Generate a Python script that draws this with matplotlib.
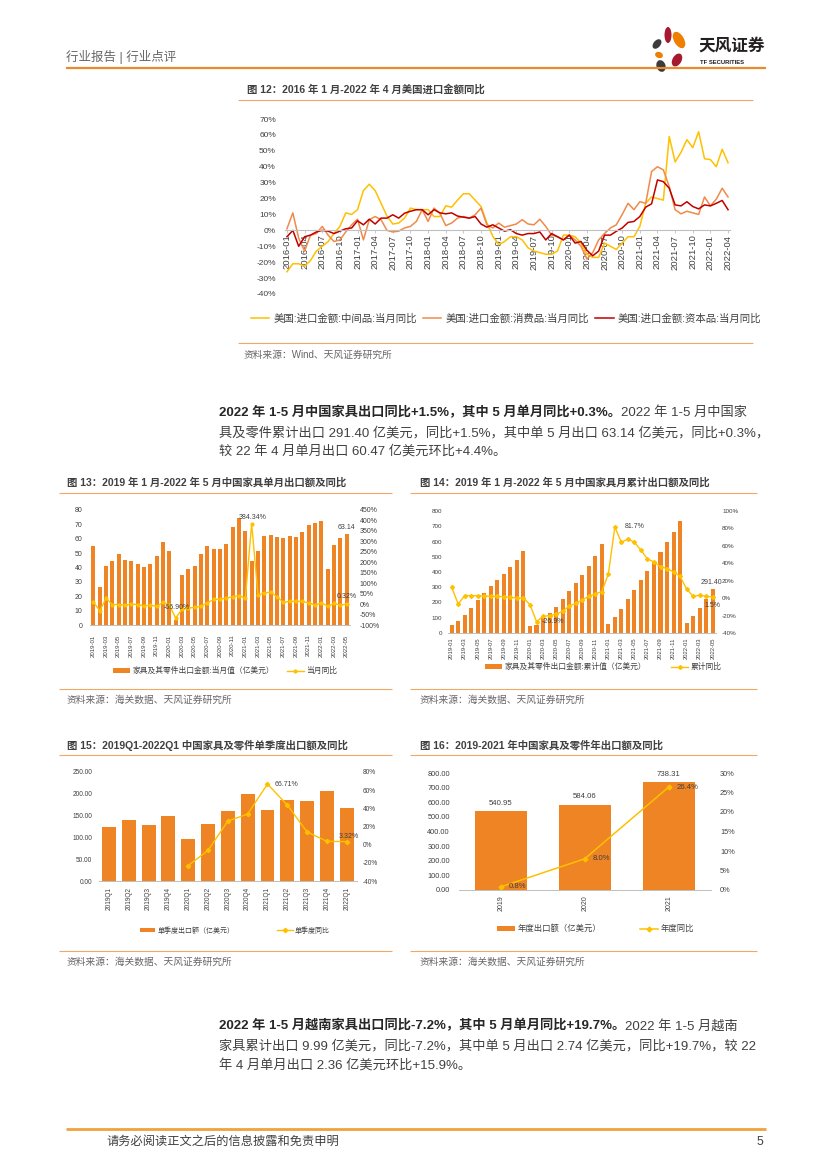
import numpy as np
import pandas as pd
import matplotlib
matplotlib.use('Agg')
import matplotlib.pyplot as plt
from matplotlib.patches import Ellipse

plt.rcParams['font.family'] = ['Liberation Sans', 'Noto Sans CJK SC']
plt.rcParams['axes.unicode_minus'] = False

W, H = 827, 1169

# ---------------- 数据 ----------------
# 图12 美国进口金额同比 (%)
us_months = pd.date_range('2016-01', '2022-04', freq='MS').strftime('%Y-%m').tolist()
us_mid = [-26, -21, -21, -22.5, -19, -13, -10, -7, -2, 2.5, 11, 10,
          13, 25, 29, 25, 17, 9, 4, 4.6, 7.7, 14, 13, 13,
          13, 8.7, 8.7, 15.4, 14.6, 19, 23, 23, 19, 15, 4.6, -3.7,
          -9, -7, -4, -4, -6, -11, -13, -14, -15, -15, -13, -3,
          -3, -4, -8, -15, -17, -17, -8, -10, -12, -8, -4, -4,
          2.5, 17, 21, 20, 19, 59, 43, 49, 57, 52, 62, 45,
          44.5, 40, 51, 42.5]
us_cons = [1, 11, -5, -13, -3, -2, 2.5, -3, -7, -6, -1, 3.5,
           7, -6, 6.7, 8.7, 6.7, 0, -1, -0.5, 1.5, 2.5, 5.6, 13,
           5.6, 14, 10.8, 3, 4.6, 7.7, 8.7, 7.7, 9.8, 14, 3.5, 1.5,
           4.6, 2, 3, 4, 6.7, 4, 3.5, 7, 2.5, -3, -4, -6,
           -3, -6, -10, -18, -14, -6, -2, 1.5, 3.5, 10, 17, 13,
           18, 17, 37, 40, 38, 27.5, 13, 10.4, 12, 11, 10, 21,
           15.4, 19.6, 26.5, 21]
us_cap = [-4, 0, -10, -4, -3, -1, 0, -0.5, -2, -0.5, 1, 1.5,
          6, 3.5, 7, 4, 7.7, 7.7, 9.8, 7.7, 10.8, 12, 13, 13,
          9.8, 13, 11, 10.4, 11, 9, 8.3, 7.7, 8.7, 4, 2, 3.5,
          1.5, -0.5, 0.4, -2, -3, -2, -2, -1, -6, -2, -4, -6,
          -3, -8, -7, -12.5, -16, -13, -3, -3, -0.6, 1.5, 5, 5.6,
          8.7, 14.6, 16.7, 31.7, 30.6, 26.5, 16, 15.4, 18, 15, 13.5, 16,
          15.4, 17, 18.8, 13]
us_names = ['美国:进口金额:中间品:当月同比', '美国:进口金额:消费品:当月同比', '美国:进口金额:资本品:当月同比']

# 图13 / 图14 中国家具出口
cn_months = pd.date_range('2019-01', '2022-05', freq='MS').strftime('%Y-%m').tolist()
cn_month_val = [55.2, 26.7, 41.1, 44.5, 49.4, 45.2, 44.8, 42.5, 40.4, 42.5, 48, 58,
                51.7, 3.5, 34.8, 39, 41, 49.4, 55, 52.9, 52.9, 56.4, 68, 74.5,
                65.4, 44.5, 51.5, 62, 62.6, 61.3, 60.6, 62, 61.3, 64.7, 69.6, 71,
                72.4, 39, 55.7, 60.5, 63.14]
cn_month_yoy = [11, -32, 27, -2, -2, -5, 0, -2, -8, -5, -11, 8,
                -5, -66.9, -25, -18, -16, -10, 6, 22, 24, 29, 35, 41,
                27, 384.34, 43, 54, 57, 35, 8, 13, 13, 13, 6, -5,
                6, -10, 3, -5, 0.32]
cn_cum_val = [55, 80, 120, 166, 219, 263, 309, 348, 387, 435, 481, 540,
              48, 55, 109, 131, 171, 225, 276, 328, 381, 442, 508, 586,
              61, 107, 160, 225, 284, 350, 409, 468, 534, 600, 665, 737,
              68, 114, 166, 225, 291.4]
cn_cum_yoy = [12.5, -6.8, 3, 3, 2.6, 2.6, 2, 2, 1.5, 1, 0, 0,
              -7.5, -26.9, -21, -20, -18.5, -15, -9, -6, -2, 2, 5, 7.5,
              27.5, 81.7, 64, 68, 64, 55, 45, 41.5, 36, 34, 30, 25,
              10.5, 2, 3.4, 2, 1.5]

# 图15 单季度
quarters = ['2019Q1', '2019Q2', '2019Q3', '2019Q4', '2020Q1', '2020Q2', '2020Q3',
            '2020Q4', '2021Q1', '2021Q2', '2021Q3', '2021Q4', '2022Q1']
q_val = [123.8, 140, 128.5, 149, 96, 131, 161, 200, 163, 186, 184, 207, 168]
q_yoy = [np.nan, np.nan, np.nan, np.nan, -23, -6.3, 26, 33.7, 66.71, 43.7, 14, 3.7, 3.32]

# 图16 年度
years = ['2019', '2020', '2021']
y_val = [540.95, 584.06, 738.31]
y_yoy = [0.8, 8.0, 26.4]

BAR = '#EE8424'
LINE = '#FFC000'
TXT = '#404040'
RULE = '#F2A766'

# ---------------- 画布 ----------------
fig = plt.figure(figsize=(W / 100, H / 100), dpi=100)
page = fig.add_axes([0, 0, 1, 1])
page.set_xlim(0, W)
page.set_ylim(H, 0)
page.axis('off')
renderer = fig.canvas.get_renderer()


def px_box(x0, y0, x1, y1):
    return [x0 / W, 1 - y1 / H, (x1 - x0) / W, (y1 - y0) / H]


def ptext(x, y, s, size, color=TXT, weight='normal', ha='left', va='center'):
    return page.text(x, y, s, fontsize=size, color=color, fontweight=weight, ha=ha, va=va)


def hline(x0, x1, y, color=RULE, lw=0.8):
    page.plot([x0, x1], [y, y], color=color, lw=lw, solid_capstyle='butt')


def rich(x, y, parts, size=9.5):
    for s, bold in parts:
        t = page.text(x, y, s, fontsize=size, va='center',
                      fontweight='bold' if bold else 'normal',
                      color='#262626' if bold else '#404040')
        x += t.get_window_extent(renderer=renderer).width


# 页眉
ptext(66, 57, '行业报告 | 行业点评', 9, color='#666666')
hline(66, 766, 68, color='#E98B2A', lw=1.6)
for (cx, cy, w, h, ang, c) in [(668, 35, 7, 16, 0, '#A6192E'), (679, 40, 10, 18, -30, '#EE7F00'),
                               (657, 44, 7, 11, 40, '#3C3C3C'), (659, 55, 8, 6, 20, '#EE7F00'),
                               (677, 60, 9, 14, 30, '#A6192E'), (661, 66, 9, 12, -20, '#3C3C3C')]:
    page.add_patch(Ellipse((cx, cy), w, h, angle=ang, color=c, lw=0))
ptext(698, 46, '天风证券', 12, color='#231F20', weight='bold')
ptext(700, 63, 'TF SECURITIES', 4.2, color='#231F20', weight='bold')

# ---------------- 图12 ----------------
ptext(247, 89, '图 12：2016 年 1 月-2022 年 4 月美国进口金额同比', 7.5, weight='bold')
hline(238, 753, 100)
ax = fig.add_axes(px_box(284.6, 119, 730.4, 294))
ax.patch.set_alpha(0)
for s in ['top', 'right', 'left']:
    ax.spines[s].set_visible(False)
ax.spines['bottom'].set_position(('data', 0))
ax.spines['bottom'].set_color('#BFBFBF')
ax.spines['bottom'].set_linewidth(0.8)
xm = np.arange(len(us_months))
for vals, col, name in zip([us_mid, us_cons, us_cap], ['#FFC000', '#F08A4B', '#C00000'], us_names):
    ax.plot(xm, vals, color=col, lw=1.1, label=name)
ax.set_xlim(-0.4, len(us_months) - 0.6)
ax.set_ylim(-40, 70)
ax.set_yticks(range(-40, 71, 10))
ax.set_yticklabels([f'{v}%' for v in range(-40, 71, 10)])
ax.set_xticks(xm[::3])
ax.set_xticklabels(us_months[::3])
ax.tick_params(axis='y', length=0, pad=6.2, labelsize=6, labelcolor=TXT)
ax.tick_params(axis='x', length=2, width=0.6, color='#BFBFBF', pad=1, labelsize=6.8,
               labelcolor=TXT, labelrotation=90)
ax.legend(loc='center left', bbox_to_anchor=(251, 318.6), bbox_transform=page.transData, ncol=3,
          frameon=False, fontsize=7.5, handlelength=1.75, handletextpad=0.4, columnspacing=0.6,
          borderpad=0, borderaxespad=0, labelcolor=TXT)
hline(238, 753, 343)
ptext(244, 355, '资料来源：Wind、天风证券研究所', 7, color='#666666')

# 正文1
rich(219, 413, [('2022 年 1-5 月中国家具出口同比+1.5%，其中 5 月单月同比+0.3%。', True),
                ('2022 年 1-5 月中国家', False)])
rich(219, 433, [('具及零件累计出口 291.40 亿美元，同比+1.5%，其中单 5 月出口 63.14 亿美元，同比+0.3%，', False)])
rich(219, 452, [('较 22 年 4 月单月出口 60.47 亿美元环比+4.4%。', False)])


def style_combo(ax, ax2, fs_y, fs_x, pad_l, pad_r, pad_x):
    for a in (ax, ax2):
        for s in ['top', 'left', 'right']:
            a.spines[s].set_visible(False)
    ax2.spines['bottom'].set_visible(False)
    ax.spines['bottom'].set_color('#BFBFBF')
    ax.spines['bottom'].set_linewidth(0.7)
    ax.tick_params(axis='y', length=0, pad=pad_l, labelsize=fs_y, labelcolor=TXT)
    ax2.tick_params(axis='y', length=0, pad=pad_r, labelsize=fs_y, labelcolor=TXT)
    ax.tick_params(axis='x', length=0, pad=pad_x, labelsize=fs_x, labelcolor=TXT, labelrotation=90)


def combo_legend(ax, ax2, x, y, fs, colsp):
    h1, l1 = ax.get_legend_handles_labels()
    h2, l2 = ax2.get_legend_handles_labels()
    ax2.legend(h1 + h2, l1 + l2, loc='center left', bbox_to_anchor=(x, y),
               bbox_transform=page.transData, ncol=2, frameon=False, fontsize=fs,
               handlelength=2.2, handleheight=0.55, handletextpad=0.3, columnspacing=colsp,
               borderpad=0, borderaxespad=0, labelcolor=TXT)


lab = dict(fontsize=5, color=TXT, textcoords='offset points')

# ---------------- 图13 ----------------
ptext(67, 482, '图 13：2019 年 1 月-2022 年 5 月中国家具单月出口额及同比', 7.5, weight='bold')
hline(59, 392, 493)
ax = fig.add_axes(px_box(90.2, 510, 349.8, 625))
ax.patch.set_alpha(0)
xi = np.arange(len(cn_months))
ax.bar(xi, cn_month_val, width=0.62, color=BAR, label='家具及其零件出口金额:当月值（亿美元）')
ax.set_xlim(-0.5, len(cn_months) - 0.5)
ax.set_ylim(0, 80)
ax.set_yticks(range(0, 81, 10))
ax.set_xticks(xi[::2])
ax.set_xticklabels(cn_months[::2])
ax2 = ax.twinx()
ax2.plot(xi, cn_month_yoy, color=LINE, lw=1, marker='o', ms=2, label='当月同比')
ax2.set_ylim(-100, 450)
ax2.set_yticks(range(-100, 451, 50))
ax2.set_yticklabels([f'{v}%' for v in range(-100, 451, 50)])
style_combo(ax, ax2, 5, 4.4, 5.8, 7.3, 7)
ax2.annotate('384.34%', (25, 384.34), xytext=(1, 2), ha='center', va='bottom', **lab)
ax2.annotate('-66.90%', (13, -66.9), xytext=(1, 5), ha='center', va='bottom', **lab)
ax2.annotate('0.32%', (40, 0.32), xytext=(0, 3), ha='center', va='bottom', **lab)
ax.annotate('63.14', (40, 63.14), xytext=(0, 2), ha='center', va='bottom', **lab)
combo_legend(ax, ax2, 113, 671, 5.6, 1.6)
hline(59, 392, 689)
ptext(67, 700, '资料来源：海关数据、天风证券研究所', 7, color='#666666')

# ---------------- 图14 ----------------
ptext(420, 482, '图 14：2019 年 1 月-2022 年 5 月中国家具月累计出口额及同比', 7.5, weight='bold')
hline(410, 757, 493)
ax = fig.add_axes(px_box(448.4, 511, 716, 633))
ax.patch.set_alpha(0)
ax.bar(xi, cn_cum_val, width=0.62, color=BAR, label='家具及其零件出口金额:累计值（亿美元）')
ax.set_xlim(-0.5, len(cn_months) - 0.5)
ax.set_ylim(0, 800)
ax.set_yticks(range(0, 801, 100))
ax.set_xticks(xi[::2])
ax.set_xticklabels(cn_months[::2])
ax2 = ax.twinx()
ax2.plot(xi, cn_cum_yoy, color=LINE, lw=1, marker='D', ms=2, label='累计同比')
ax2.set_ylim(-40, 100)
ax2.set_yticks(range(-40, 101, 20))
ax2.set_yticklabels([f'{v}%' for v in range(-40, 101, 20)])
style_combo(ax, ax2, 4.5, 4.2, 4.6, 4.3, 3)
ax2.annotate('81.7%', (25, 81.7), xytext=(7, 0), ha='left', va='center', **lab)
ax2.annotate('-26.9%', (13, -26.9), xytext=(4, 0), ha='left', va='center', **lab)
ax2.annotate('1.5%', (40, 1.5), xytext=(0, -4), ha='center', va='top', **lab)
ax.annotate('291.40', (40, 291.4), xytext=(-1, 1.5), ha='center', va='bottom', **lab)
combo_legend(ax, ax2, 485, 667, 5.6, 3.2)
hline(410, 757, 689)
ptext(420, 700, '资料来源：海关数据、天风证券研究所', 7, color='#666666')

# ---------------- 图15 ----------------
ptext(67, 745, '图 15：2019Q1-2022Q1 中国家具及零件单季度出口额及同比', 7.5, weight='bold')
hline(59, 392, 755)
ax = fig.add_axes(px_box(99.1, 772, 356.6, 881))
ax.patch.set_alpha(0)
xq = np.arange(len(quarters))
ax.bar(xq, q_val, width=0.7, color=BAR, label='单季度出口额（亿美元）')
ax.set_xlim(-0.5, len(quarters) - 0.5)
ax.set_ylim(0, 250)
ax.set_yticks(range(0, 251, 50))
ax.set_yticklabels([f'{v:.2f}' for v in range(0, 251, 50)])
ax.set_xticks(xq)
ax.set_xticklabels(quarters)
ax2 = ax.twinx()
ax2.plot(xq, q_yoy, color=LINE, lw=1, marker='D', ms=2.2, label='单季度同比')
ax2.set_ylim(-40, 80)
ax2.set_yticks(range(-40, 81, 20))
ax2.set_yticklabels([f'{v}%' for v in range(-40, 81, 20)])
style_combo(ax, ax2, 4.7, 4.7, 5, 4.6, 4.3)
ax2.annotate('66.71%', (8, 66.71), xytext=(5.5, 0), ha='left', va='center', **lab)
ax2.annotate('3.32%', (12, 3.32), xytext=(1.5, 1), ha='center', va='bottom', **lab)
combo_legend(ax, ax2, 140, 931, 5, 6.2)
hline(59, 392, 951)
ptext(67, 962, '资料来源：海关数据、天风证券研究所', 7, color='#666666')

# ---------------- 图16 ----------------
ptext(420, 745, '图 16：2019-2021 年中国家具及零件年出口额及同比', 7.5, weight='bold')
hline(410, 757, 755)
ax = fig.add_axes(px_box(458.7, 773, 710.7, 890))
ax.patch.set_alpha(0)
xy = np.arange(len(years))
ax.bar(xy, y_val, width=0.62, color=BAR, label='年度出口额（亿美元）')
ax.set_xlim(-0.5, len(years) - 0.5)
ax.set_ylim(0, 800)
ax.set_yticks(range(0, 801, 100))
ax.set_yticklabels([f'{v:.2f}' for v in range(0, 801, 100)])
ax.set_xticks(xy)
ax.set_xticklabels(years)
ax2 = ax.twinx()
ax2.plot(xy, y_yoy, color=LINE, lw=1.1, marker='D', ms=2.4, label='年度同比')
ax2.set_ylim(0, 30)
ax2.set_yticks(range(0, 31, 5))
ax2.set_yticklabels([f'{v}%' for v in range(0, 31, 5)])
style_combo(ax, ax2, 5.3, 5, 6.3, 6.7, 3.6)
for i, v in enumerate(y_val):
    ax.annotate(f'{v:.2f}', (i, v), xytext=(0, 3), ha='center', va='bottom', fontsize=5.6,
                color=TXT, textcoords='offset points')
for i, v in enumerate(y_yoy):
    ax2.annotate(f'{v:.1f}%', (i, v), xytext=(6, 0), ha='left', va='center', fontsize=5.6,
                 color=TXT, textcoords='offset points')
combo_legend(ax, ax2, 497, 929, 6, 4.6)
hline(410, 757, 951)
ptext(420, 962, '资料来源：海关数据、天风证券研究所', 7, color='#666666')

# 正文2
rich(219, 1026, [('2022 年 1-5 月越南家具出口同比-7.2%，其中 5 月单月同比+19.7%。', True),
                 ('2022 年 1-5 月越南', False)])
rich(219, 1046, [('家具累计出口 9.99 亿美元，同比-7.2%，其中单 5 月出口 2.74 亿美元，同比+19.7%，较 22', False)])
rich(219, 1066, [('年 4 月单月出口 2.36 亿美元环比+15.9%。', False)])

# 页脚
hline(66, 766, 1129, color='#F0A23C', lw=2)
ptext(106, 1142, '请务必阅读正文之后的信息披露和免责申明', 8.8)
ptext(763, 1142, '5', 8.8, ha='right')

fig.savefig('out.png', dpi=100)
